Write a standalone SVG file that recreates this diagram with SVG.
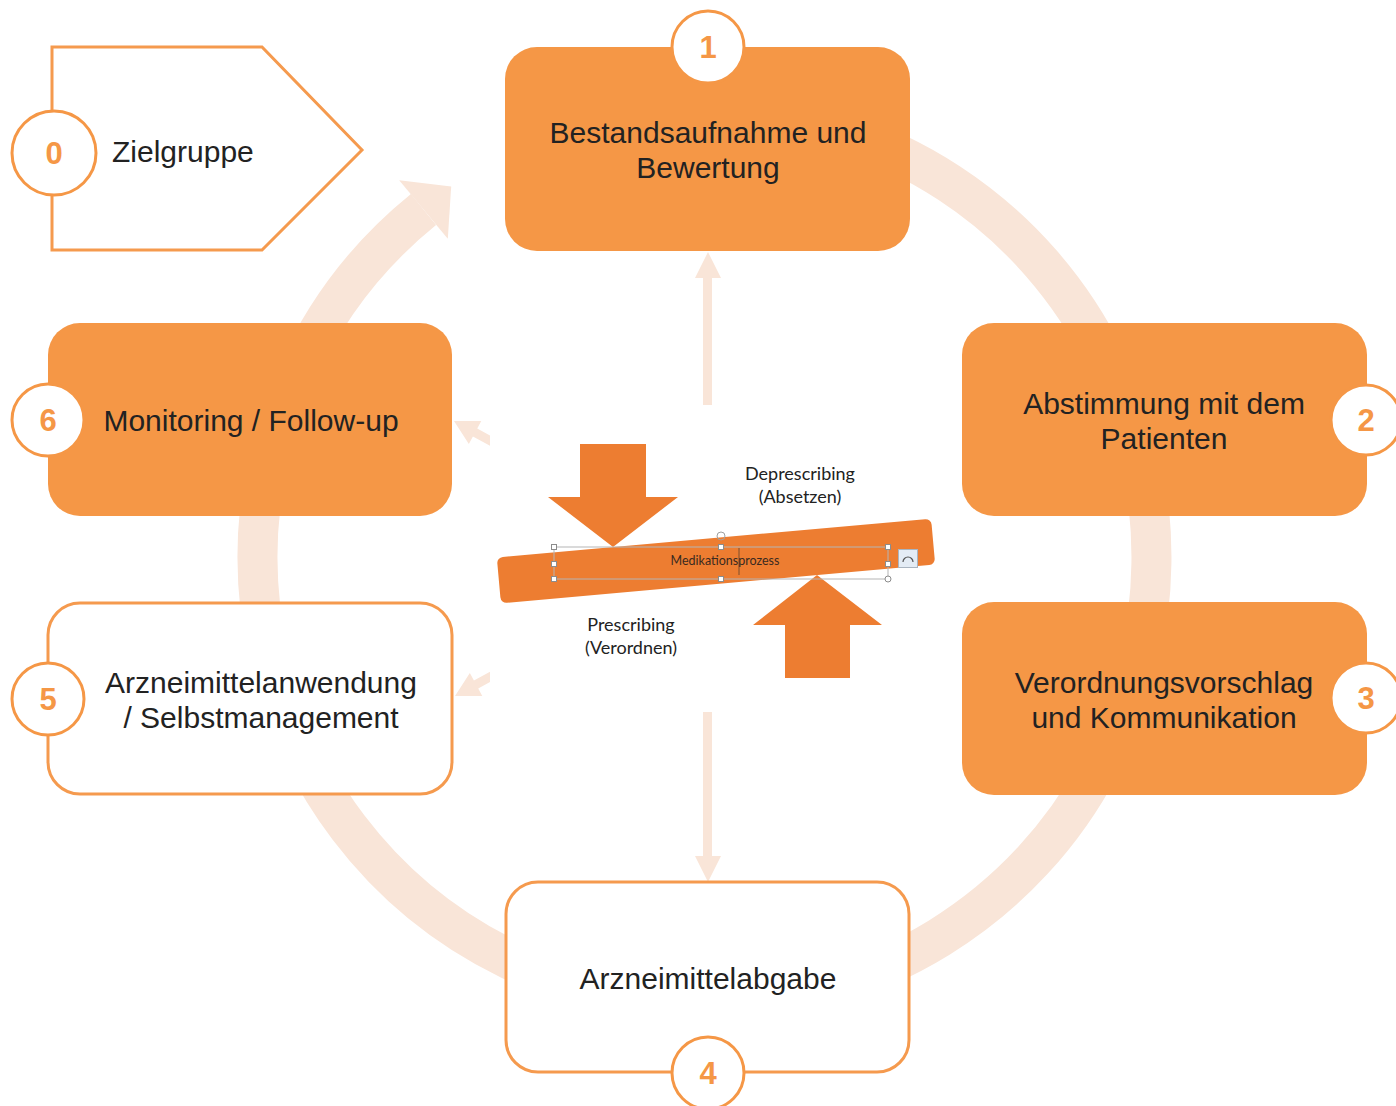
<svg xmlns="http://www.w3.org/2000/svg" width="1396" height="1106" viewBox="0 0 1396 1106">
  <style>
    .box-fill { fill: #F59746; }
    .box-line { fill: #FFFFFF; stroke: #F59A4E; stroke-width: 3; }
    .label { font-family: "Liberation Sans", Arial, sans-serif; font-size: 30px; fill: #222222; text-anchor: middle; }
    .badge { fill: #FFFFFF; stroke: #F59746; stroke-width: 3; }
    .num { font-family: "Liberation Sans", Arial, sans-serif; font-size: 31px; font-weight: bold; fill: #F59746; text-anchor: middle; }
    .ring { fill: none; stroke: #F9E5D8; stroke-width: 40; }
    .pale { fill: #F9E5D8; }
    .dark { fill: #ED7D31; }
    .small { font-family: Lato, "Open Sans", sans-serif; font-size: 18px; fill: #222222; text-anchor: middle; }
    .handle { fill: #FFFFFF; stroke: #8C8C8C; stroke-width: 1; }
  </style>
  <defs>
    <clipPath id="leftCut">
      <rect x="400" y="380" width="90" height="340"/>
    </clipPath>
  </defs>

  <!-- cycle ring and connectors -->
  <g id="connectors">
    <path class="ring" d="M 520 150 A 447 447 0 1 1 423.5 209.5"/>
    <polygon class="pale" points="399.2,180.2 451.2,186.5 447.8,238.8"/>
    <!-- centre to step 1 -->
    <polygon class="pale" points="703,405 712,405 712,278 721,278 708,252 695,278 703,278"/>
    <!-- centre to step 4 -->
    <polygon class="pale" points="703,712 712,712 712,856 721,856 708,882 695,856 703,856"/>
    <g clip-path="url(#leftCut)">
      <!-- centre to step 6 -->
      <polygon class="pale" transform="translate(454,421) rotate(28.6)" points="0,0 24,-13 24,-4.5 80,-4.5 80,4.5 24,4.5 24,13"/>
      <!-- centre to step 5 -->
      <polygon class="pale" transform="translate(455,696) rotate(-28.6)" points="0,0 24,-13 24,-4.5 80,-4.5 80,4.5 24,4.5 24,13"/>
    </g>
  </g>

  <!-- step 0 -->
  <g id="node-0">
    <polygon class="box-line" points="52,47 262,47 362,150 262,250 52,250"/>
    <circle class="badge" cx="54" cy="153" r="42"/>
    <text class="num" x="54" y="164">0</text>
    <text class="label" x="112" y="162" style="text-anchor:start">Zielgruppe</text>
  </g>

  <!-- step 1 -->
  <g id="node-1">
    <rect class="box-fill" x="505" y="47" width="405" height="204" rx="32"/>
    <text class="label" x="708" y="143">Bestandsaufnahme und</text>
    <text class="label" x="708" y="178">Bewertung</text>
    <circle class="badge" cx="708" cy="47" r="36"/>
    <text class="num" x="708" y="58">1</text>
  </g>

  <!-- step 2 -->
  <g id="node-2">
    <rect class="box-fill" x="962" y="323" width="405" height="193" rx="32"/>
    <text class="label" x="1164" y="414">Abstimmung mit dem</text>
    <text class="label" x="1164" y="449">Patienten</text>
    <circle class="badge" cx="1366" cy="420" r="35"/>
    <text class="num" x="1366" y="431">2</text>
  </g>

  <!-- step 3 -->
  <g id="node-3">
    <rect class="box-fill" x="962" y="602" width="405" height="193" rx="32"/>
    <text class="label" x="1164" y="693">Verordnungsvorschlag</text>
    <text class="label" x="1164" y="728">und Kommunikation</text>
    <circle class="badge" cx="1366" cy="698" r="35"/>
    <text class="num" x="1366" y="709">3</text>
  </g>

  <!-- step 4 -->
  <g id="node-4">
    <rect class="box-line" x="506" y="882" width="403" height="190" rx="32"/>
    <text class="label" x="708" y="989">Arzneimittelabgabe</text>
    <circle class="badge" cx="708" cy="1073" r="36"/>
    <text class="num" x="708" y="1084">4</text>
  </g>

  <!-- step 5 -->
  <g id="node-5">
    <rect class="box-line" x="48" y="603" width="404" height="191" rx="32"/>
    <text class="label" x="261" y="693">Arzneimittelanwendung</text>
    <text class="label" x="261" y="728">/ Selbstmanagement</text>
    <circle class="badge" cx="48" cy="699" r="36"/>
    <text class="num" x="48" y="710">5</text>
  </g>

  <!-- step 6 -->
  <g id="node-6">
    <rect class="box-fill" x="48" y="323" width="404" height="193" rx="32"/>
    <text class="label" x="251" y="431">Monitoring / Follow-up</text>
    <circle class="badge" cx="48" cy="420" r="36"/>
    <text class="num" x="48" y="431">6</text>
  </g>

  <!-- centre: prescribing / deprescribing balance -->
  <g id="balance">
    <rect class="dark" x="498" y="538" width="436" height="46" rx="6" transform="rotate(-5.1 716 561)"/>
    <polygon class="dark" points="580,444 646,444 646,497 678,497 613,547 548,497 580,497"/>
    <polygon class="dark" points="785,678 850,678 850,625 882,625 817,575 753,625 785,625"/>
    <text class="small" x="800" y="480">Deprescribing</text>
    <text class="small" x="800" y="503">(Absetzen)</text>
    <text class="small" x="631" y="631">Prescribing</text>
    <text class="small" x="631" y="654">(Verordnen)</text>
    <!-- text box frame with handles -->
    <rect x="554" y="547" width="334" height="32" fill="none" stroke="#B5B5B5" stroke-width="1"/>
    <line x1="739" y1="548" x2="739" y2="575" stroke="#7A5030" stroke-width="1"/>
    <text x="725" y="565" style="font-family:Lato,'Open Sans',sans-serif;font-size:12.5px;fill:#3A2A20;text-anchor:middle">Medikationsprozess</text>
    <rect class="handle" x="551.5" y="544.5" width="5" height="5"/>
    <rect class="handle" x="718.5" y="544.5" width="5" height="5"/>
    <rect class="handle" x="885.5" y="544.5" width="5" height="5"/>
    <rect class="handle" x="551.5" y="561.5" width="5" height="5"/>
    <rect class="handle" x="885.5" y="561.5" width="5" height="5"/>
    <rect class="handle" x="551.5" y="576.5" width="5" height="5"/>
    <rect class="handle" x="718.5" y="576.5" width="5" height="5"/>
    <circle class="handle" cx="888" cy="579" r="3"/>
    <circle cx="721" cy="536" r="4" fill="none" stroke="#A0A0A0" stroke-width="1"/>
    <rect x="898.5" y="549.5" width="19" height="18" fill="#E4ECF5" stroke="#A9B4C0" stroke-width="1"/>
    <path d="M 903 562 A 5 5 0 0 1 913 562" fill="none" stroke="#555555" stroke-width="1.2"/>
  </g>
</svg>
